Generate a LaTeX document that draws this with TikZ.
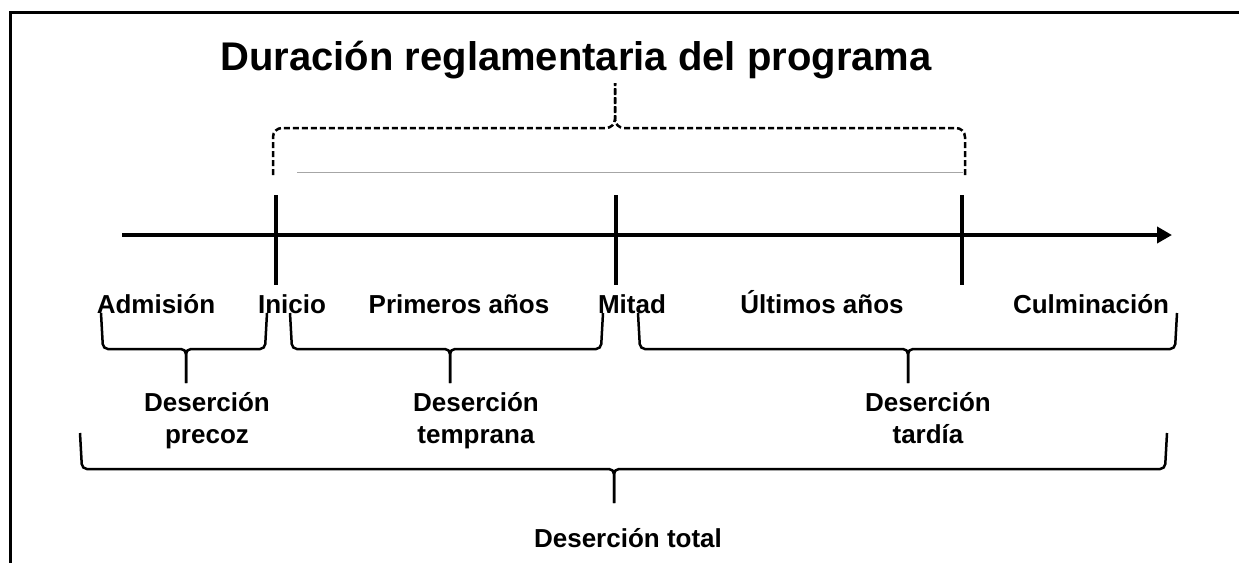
\documentclass[tikz,border=0pt]{standalone}
\usepackage{fontspec}
\setmainfont{Liberation Sans}
\usetikzlibrary{arrows.meta, positioning}

\begin{document}
\begin{tikzpicture}[x=1pt, y=-1pt,
    etiqueta/.style={font=\fontsize{26}{32}\selectfont\bfseries, anchor=base, inner sep=0pt, align=center},
    titulo/.style={font=\fontsize{40}{44}\selectfont\bfseries, anchor=base, inner sep=0pt},
    llave/.style={line width=2.5pt, rounded corners=5pt},
    marca/.style={line width=4pt}]
    \useasboundingbox (0,0) rectangle (1239,563);

    % Marco
    \draw[line width=3pt] (1239,12) -- (10,12) -- (10,563);

    % Titulo y llave punteada
    \node[titulo] (titulo) at (576,70) {Duración reglamentaria del programa};
    \draw[llave, rounded corners=9pt, dash pattern=on 6pt off 3pt] (273,175) -- (273,128) -- (615,128) -- (615,83);
    \draw[llave, rounded corners=9pt, dash pattern=on 6pt off 3pt] (965,175) -- (965,128) -- (615,128) -- (615,83);
    \draw[gray!70, line width=1pt] (297,172) -- (963,172);

    % Eje
    \coordinate (eje0) at (122,235);
    \coordinate (eje1) at (1172,235);
    \draw[marca, -{Triangle[length=15pt, width=16pt]}] (eje0) -- (eje1);
    \draw[marca] (276,195) -- (276,285);
    \draw[marca] (616,195) -- (616,285);
    \draw[marca] (962,195) -- (962,285);

    % Etapas
    \node[etiqueta] (adm) at (156,313) {Admisión};
    \node[etiqueta] (ini) at (292,313) {Inicio};
    \node[etiqueta] (prim) at (459,313) {Primeros años};
    \node[etiqueta] (mit) at (632,313) {Mitad};
    \node[etiqueta] (ult) at (822,313) {Últimos años};
    \node[etiqueta] (cul) at (1091,313) {Culminación};

    % Llaves
    \draw[llave] (101,313) -- (103,349) -- (186,349) -- (186,383);
    \draw[llave] (267,313) -- (265,349) -- (186,349) -- (186,383);
    \draw[llave] (290,313) -- (292,349) -- (450,349) -- (450,383);
    \draw[llave] (603,313) -- (601,349) -- (450,349) -- (450,383);
    \draw[llave] (638,313) -- (640,349) -- (908,349) -- (908,383);
    \draw[llave] (1177,313) -- (1175,349) -- (908,349) -- (908,383);
    \draw[llave] (80,433) -- (82,469) -- (614,469) -- (614,503);
    \draw[llave] (1167,433) -- (1165,469) -- (614,469) -- (614,503);

    % Tipos de desercion
    \node[etiqueta] (dprec) at (207,443) {Deserción\\precoz};
    \node[etiqueta] (dtemp) at (476,443) {Deserción\\temprana};
    \node[etiqueta] (dtard) at (928,443) {Deserción\\tardía};
    \node[etiqueta] (dtot) at (628,547) {Deserción total};
\end{tikzpicture}
\end{document}
